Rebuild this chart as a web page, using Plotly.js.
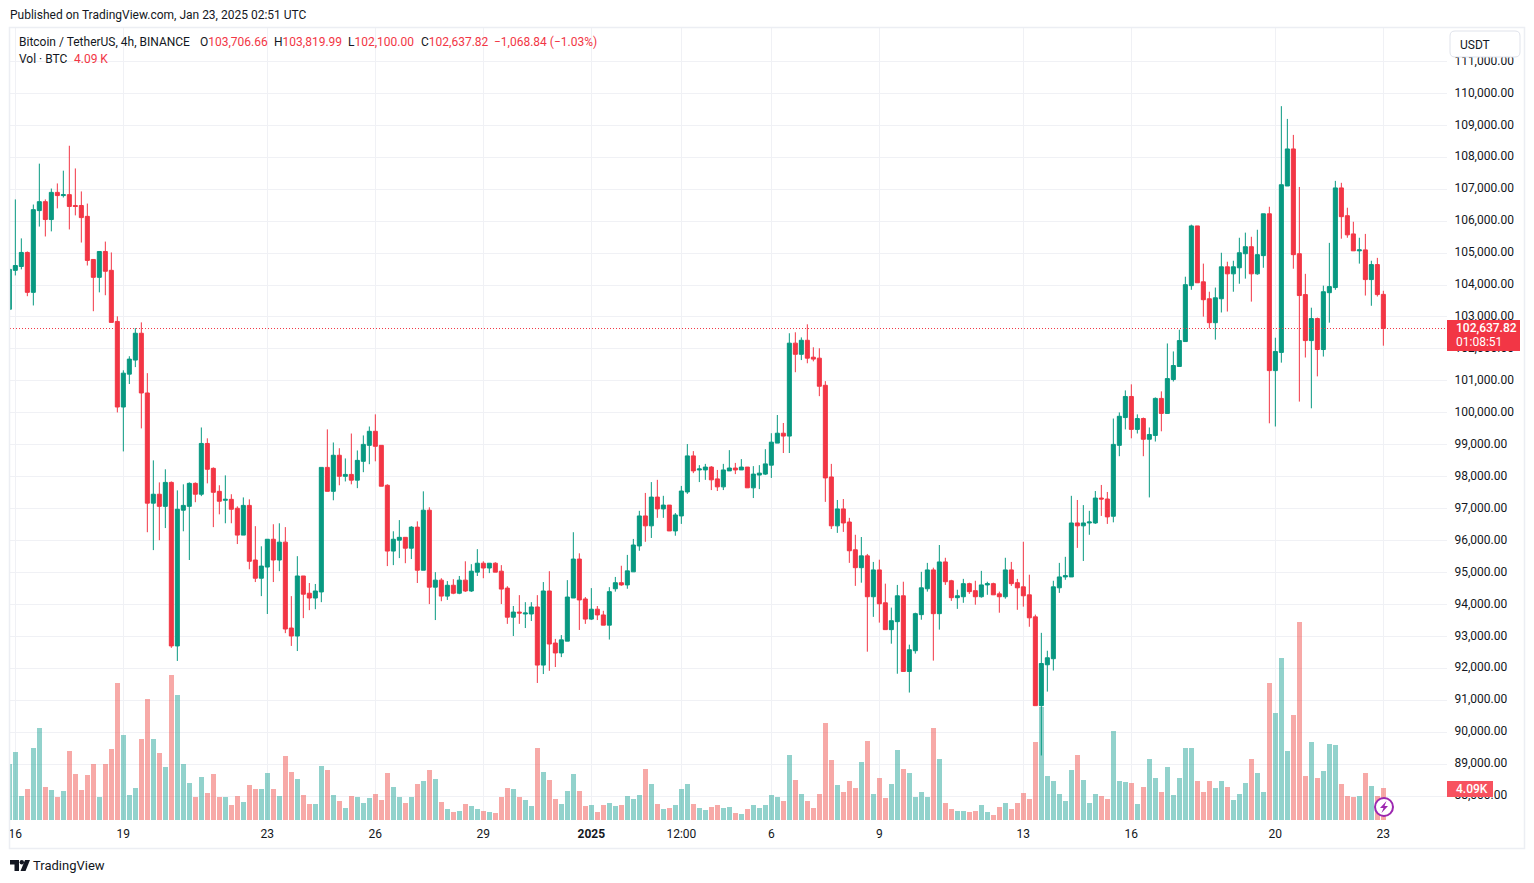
<!DOCTYPE html>
<html>
<head>
<meta charset="utf-8">
<script src="https://cdn.plot.ly/plotly-3.0.1.min.js"></script>
<style>html,body{margin:0;padding:0;background:#fff}#chart{width:1534px;height:883px}</style>
</head>
<body>
<div id="chart"></div>
<script>
// Prices in thousands of USDT, one entry per 4h candle starting 2024-12-15 20:00
const openK = [
103.24,104.46,104.58,105.02,103.77,106.33,106.61,106.05,106.90,106.80,
106.83,106.49,106.49,106.15,104.80,104.24,105.05,104.46,102.86,100.18,
101.21,101.65,102.49,100.62,97.17,97.45,97.07,97.82,92.70,96.95,
97.07,97.79,97.45,99.04,98.26,97.54,97.26,97.29,97.01,96.17,
97.10,95.39,94.82,95.17,96.04,95.39,95.95,93.26,93.01,94.89,
94.35,94.20,94.39,98.29,97.54,98.67,98.01,98.07,97.89,98.48,
98.98,99.42,98.98,97.73,95.67,96.01,96.10,95.76,96.42,95.07,
96.95,94.54,94.76,94.26,94.60,94.35,94.76,94.42,95.01,95.29,
95.14,95.29,95.04,94.51,93.60,93.76,93.70,93.70,93.92,92.10,
94.42,92.79,92.48,92.85,94.20,95.42,94.17,93.54,93.85,93.67,
93.35,94.49,94.68,94.61,95.02,95.83,96.77,96.46,97.36,96.99,
97.11,96.30,96.77,97.52,98.65,98.21,98.21,98.30,97.93,97.68,
98.18,98.27,98.21,98.30,97.65,98.05,98.08,98.36,99.05,99.36,
99.27,102.18,101.83,102.27,101.74,101.71,100.86,97.99,96.46,96.99,
96.58,95.71,95.15,95.52,94.24,95.08,94.05,93.21,93.46,94.27,
91.90,92.55,93.68,94.49,95.08,93.71,95.33,94.74,94.21,94.24,
94.65,94.43,94.24,94.61,94.65,94.33,94.24,95.08,94.68,94.55,
94.30,93.61,90.83,92.11,92.30,94.52,94.86,94.86,96.55,96.46,
96.55,96.55,97.33,97.30,96.76,98.98,99.85,100.51,99.48,99.82,
99.17,99.29,100.45,99.98,101.04,101.45,102.23,103.98,105.85,104.10,
103.57,102.82,103.57,104.57,104.35,104.54,104.98,105.20,104.35,104.92,
106.23,101.32,101.89,107.10,108.26,104.98,103.70,102.26,102.95,101.98,
103.76,103.92,107.04,106.17,105.60,105.07,105.10,104.17,104.64,103.70666
];
const highK = [
104.49,106.68,105.46,105.05,106.52,107.80,106.68,107.02,107.18,107.58,
108.36,107.65,106.93,106.55,104.80,105.05,105.36,105.02,103.02,101.33,
101.77,102.65,102.83,101.24,98.51,97.82,98.23,97.85,97.57,97.76,
97.82,97.82,99.54,99.20,98.29,97.73,98.04,97.45,97.07,97.35,
97.29,96.45,95.82,96.04,96.51,96.54,96.42,94.26,95.51,94.89,
94.67,94.64,98.29,99.48,99.07,98.89,98.57,99.35,98.82,99.29,
99.57,99.95,98.98,97.76,96.29,96.64,96.10,96.45,96.60,97.54,
97.04,95.01,94.82,94.73,94.79,94.89,95.35,95.26,95.73,95.35,
95.29,95.32,95.23,94.57,93.95,94.29,94.07,94.07,94.29,94.70,
95.04,92.92,93.04,94.76,96.26,95.60,94.23,94.51,93.95,93.80,
94.54,94.86,95.21,95.55,96.05,96.93,97.49,97.83,97.90,97.40,
97.11,96.86,97.71,99.02,98.80,98.36,98.40,98.33,98.21,98.40,
98.83,98.43,98.55,98.30,98.33,98.36,98.86,99.36,99.93,99.68,
102.49,102.52,102.36,102.77,102.05,102.02,100.99,98.40,97.27,97.30,
96.71,96.18,96.11,95.58,95.33,95.40,94.65,93.90,94.61,94.71,
92.74,93.74,95.02,95.30,95.15,95.86,95.46,94.77,94.46,94.80,
94.68,94.74,95.05,94.71,94.68,94.40,95.46,95.33,94.80,95.96,
94.93,93.68,93.11,92.55,94.74,95.30,95.49,97.40,97.27,97.11,
96.93,97.55,97.74,97.52,99.82,100.01,100.70,100.89,99.95,99.85,
99.54,100.48,100.67,102.17,101.92,102.60,104.26,105.89,105.85,104.67,
103.79,103.92,105.01,104.73,104.76,105.48,105.64,105.51,105.73,106.23,
106.45,102.35,109.60,109.20,108.70,107.07,104.35,103.29,102.98,103.98,
105.32,107.26,107.20,106.42,105.98,105.48,105.60,104.76,104.85,103.81999
];
const lowK = [
103.24,104.30,104.49,103.65,103.36,105.83,105.52,105.68,106.40,106.74,
105.74,106.18,105.33,104.61,103.18,103.77,103.68,102.83,100.01,98.79,
100.90,101.43,99.51,96.26,95.70,96.01,96.39,92.64,92.23,96.29,
95.39,97.20,97.39,97.79,96.42,96.82,96.54,96.54,95.89,96.17,
95.10,94.70,94.26,93.70,94.70,95.04,93.10,92.70,92.54,93.57,
93.82,93.85,94.07,97.54,97.26,97.73,97.85,97.76,97.64,98.14,
98.39,98.48,97.70,95.20,95.23,95.45,95.29,95.42,94.67,95.07,
94.01,93.51,94.10,94.14,94.32,94.32,94.39,94.39,94.89,94.82,
94.98,95.01,94.01,93.39,93.01,93.39,93.26,93.48,91.54,91.82,
91.92,92.04,92.35,92.85,94.20,93.20,93.39,93.51,93.51,93.35,
92.90,94.40,94.58,94.49,95.02,95.68,95.96,96.08,96.71,96.71,
96.30,96.15,96.52,97.46,98.11,97.83,97.90,97.58,97.55,97.58,
98.18,98.08,98.21,97.65,97.33,97.61,98.05,97.96,99.05,98.74,
98.74,101.27,101.65,101.55,101.61,100.52,97.21,96.36,96.24,96.27,
95.30,94.58,94.68,92.52,93.61,93.43,93.21,92.77,91.83,91.90,
91.24,92.46,93.52,94.40,92.24,93.21,94.61,94.11,93.86,94.05,
94.33,93.99,94.21,94.30,94.30,93.74,94.18,94.58,93.83,93.93,
93.30,90.83,89.27,91.27,91.93,94.36,94.77,94.86,95.77,95.36,
96.18,96.52,96.77,96.52,96.57,98.64,99.48,99.20,99.35,98.64,
97.35,99.10,99.42,99.98,100.98,101.45,102.23,103.85,104.07,103.01,
102.64,102.29,103.14,103.17,103.79,104.04,104.20,103.48,104.32,104.54,
99.67,99.57,101.57,107.10,104.51,100.35,101.73,100.14,101.14,101.76,
102.82,103.85,105.45,105.48,105.07,104.67,103.67,103.35,103.64,102.10
];
const closeK = [
104.49,104.61,105.02,103.77,106.36,106.61,106.05,106.90,106.80,106.83,
106.46,106.46,106.11,104.77,104.24,105.05,104.43,102.83,100.18,101.24,
101.68,102.49,100.62,97.17,97.45,97.07,97.82,92.70,96.98,97.10,
97.79,97.45,99.04,98.23,97.51,97.23,97.29,96.98,96.17,97.10,
95.35,94.82,95.20,96.04,95.39,95.95,93.23,93.01,94.89,94.32,
94.20,94.42,98.29,97.54,98.67,98.01,98.07,97.89,98.51,99.01,
99.42,98.95,97.70,95.67,96.04,96.10,95.76,96.42,95.07,96.95,
94.54,94.76,94.26,94.60,94.35,94.76,94.42,95.04,95.29,95.14,
95.29,95.01,94.48,93.60,93.76,93.73,93.73,93.92,92.10,94.42,
92.76,92.48,92.89,94.23,95.42,94.14,93.54,93.85,93.67,93.35,
94.40,94.68,94.61,95.05,95.86,96.77,96.46,97.36,96.99,97.11,
96.30,96.80,97.55,98.65,98.18,98.24,98.30,97.90,97.68,98.21,
98.27,98.21,98.30,97.65,98.08,98.11,98.40,99.08,99.36,99.27,
102.18,101.83,102.27,101.71,101.68,100.83,97.96,96.46,96.99,96.55,
95.68,95.15,95.52,94.24,95.08,94.02,93.21,93.49,94.27,91.90,
92.58,93.71,94.52,95.08,93.71,95.33,94.71,94.21,94.27,94.65,
94.40,94.24,94.61,94.65,94.30,94.24,95.08,94.65,94.52,94.27,
93.58,90.83,92.15,92.33,94.55,94.86,94.90,96.55,96.46,96.55,
96.58,97.33,97.30,96.74,99.01,99.89,100.51,99.48,99.82,99.17,
99.32,100.45,99.98,101.07,101.48,102.26,104.01,105.85,104.07,103.54,
102.82,103.60,104.57,104.35,104.57,105.01,105.20,104.35,104.95,106.23,
101.32,101.92,107.14,108.26,104.95,103.67,102.26,102.95,101.98,103.79,
103.95,107.04,106.14,105.57,105.07,105.10,104.17,104.64,103.70,102.63782
];
// Volume in thousands of BTC
const volumeK = [
7.16,8.69,3.07,3.96,9.20,11.76,4.22,3.83,2.94,3.71,
8.82,5.88,3.83,5.75,7.16,2.94,7.16,9.07,17.51,10.86,
3.20,4.09,10.35,15.46,10.35,8.56,6.77,18.53,15.98,7.16,
4.73,2.94,5.50,3.45,5.88,2.94,2.94,1.92,3.07,2.30,
4.47,3.96,3.96,6.01,3.96,3.07,8.18,6.13,5.24,3.20,
2.04,2.04,6.90,6.39,3.20,2.43,1.53,3.07,2.94,2.17,
2.81,3.32,2.56,6.01,4.22,2.94,2.17,2.94,4.60,4.98,
6.39,5.24,2.30,1.41,1.02,1.15,2.04,1.79,1.41,1.15,
1.02,0.89,2.94,4.09,3.96,2.94,2.56,1.79,9.20,6.13,
5.11,2.68,2.04,3.71,5.88,3.71,1.79,1.92,1.02,1.92,
2.17,1.79,1.92,3.07,2.68,3.20,6.52,4.60,2.04,1.41,
1.53,1.92,3.96,4.60,2.04,1.53,1.28,1.66,1.92,1.53,
1.66,0.89,0.77,1.41,1.92,1.53,1.92,3.20,2.94,2.43,
8.31,5.11,3.32,2.43,1.53,3.32,12.40,7.67,4.47,3.58,
4.98,4.09,7.41,10.10,3.32,5.37,2.81,4.60,8.95,6.52,
6.01,2.94,3.58,2.94,11.76,7.80,2.17,1.41,1.15,1.15,
1.02,1.15,1.92,1.02,0.64,1.66,2.17,1.41,2.17,3.45,
2.68,9.97,14.48,5.62,4.98,3.32,2.43,6.39,8.31,5.11,
2.17,3.32,3.07,2.68,11.37,4.98,4.86,4.73,2.04,4.22,
7.80,5.37,3.58,6.77,3.20,5.37,9.20,9.20,4.98,3.58,
4.98,4.09,4.98,4.22,2.56,3.32,4.73,7.80,6.01,3.58,
17.51,13.67,20.70,8.82,13.42,25.30,5.62,9.97,5.37,6.26,
9.71,9.59,4.60,3.07,2.94,3.07,6.01,4.35,3.07,4.09
];
const tickDates = ['2024-12-16','2024-12-19','2024-12-23','2024-12-26','2024-12-29','2025-01-01','2025-01-03 12:00','2025-01-06','2025-01-09','2025-01-13','2025-01-16','2025-01-20','2025-01-23'];
const tickLabels = ['16','19','23','26','29','<b>2025</b>','12:00','6','9','13','16','20','23'];
const priceTicks = [88,89,90,91,92,93,94,95,96,97,98,99,100,101,102,103,104,105,106,107,108,109,110,111];
const lastPrice = 102637.82;

const T = v => v * 1000;
const times = openK.map((_, i) => new Date(Date.UTC(2024, 11, 15, 20) + i * 4 * 3600e3).toISOString().slice(0, 19).replace('T', ' '));
const UP = '#089981', DOWN = '#f23645', INK = '#131722';
const FONT = 'Roboto, sans-serif';

const volumeTrace = {
  type: 'bar', x: times, y: volumeK, yaxis: 'y', xaxis: 'x', width: 4 * 3600e3 * 0.83,
  marker: { color: openK.map((o, i) => closeK[i] >= o ? 'rgba(38,166,154,0.5)' : 'rgba(239,83,80,0.5)'), line: { width: 0 } },
  hoverinfo: 'skip', showlegend: false
};
const candleTrace = {
  type: 'candlestick', x: times, open: openK.map(T), high: highK.map(T), low: lowK.map(T), close: closeK.map(T),
  xaxis: 'x', yaxis: 'y2', whiskerwidth: 0, hoverinfo: 'skip', showlegend: false,
  increasing: { line: { color: UP, width: 1 }, fillcolor: UP },
  decreasing: { line: { color: DOWN, width: 1 }, fillcolor: DOWN }
};

// page-pixel helpers for the decoration around the plot
const L = 10, R = 1447, TOP = 28, BOT = 820;
const X = p => (p - L) / (R - L), Y = p => (BOT - p) / (BOT - TOP);
const paper = { xref: 'paper', yref: 'paper' };
const box = (x0, y0, x1, y1, fill, line, w) => Object.assign({ type: 'rect', x0: X(x0), x1: X(x1), y0: Y(y0), y1: Y(y1), fillcolor: fill, line: { color: line || fill, width: w === undefined ? 0 : w }, layer: 'above' }, paper);
const poly = (pts, fill) => Object.assign({ type: 'path', path: 'M' + pts.map(p => X(p[0]) + ',' + Y(p[1])).join(' L') + ' Z', fillcolor: fill, line: { width: 0 }, layer: 'above' }, paper);
const circle = (cx, cy, r, fill, line, w) => Object.assign({ type: 'circle', x0: X(cx - r), x1: X(cx + r), y0: Y(cy - r), y1: Y(cy + r), fillcolor: fill, line: { color: line || fill, width: w || 0 }, layer: 'above' }, paper);
const note = (px, py, text, color, size, weight) => Object.assign({ x: X(px), y: Y(py), text: text, showarrow: false, xanchor: 'left', yanchor: 'middle', align: 'left', borderpad: 0, font: { family: FONT, size: size || 12, color: color || INK, weight: weight || 400 } }, paper);

function roundRect(x0, y0, x1, y1, r) {
  const p = (x, y) => X(x) + ',' + Y(y);
  return 'M' + p(x0 + r, y0) + ' L' + p(x1 - r, y0) + ' Q' + p(x1, y0) + ' ' + p(x1, y0 + r) + ' L' + p(x1, y1 - r) + ' Q' + p(x1, y1) + ' ' + p(x1 - r, y1) +
    ' L' + p(x0 + r, y1) + ' Q' + p(x0, y1) + ' ' + p(x0, y1 - r) + ' L' + p(x0, y0 + r) + ' Q' + p(x0, y0) + ' ' + p(x0 + r, y0) + ' Z';
}

const shapes = [
  { type: 'line', xref: 'paper', yref: 'y2', x0: 0, x1: 1, y0: lastPrice, y1: lastPrice, line: { color: DOWN, width: 1, dash: '1px,2px' }, layer: 'above' },
  box(9.5, 27.5, 1524.5, 848.5, 'rgba(0,0,0,0)', '#eceef3', 1.5),
  box(1447, 320, 1520, 351, DOWN),
  box(1447, 781, 1493, 797, '#f7525f'),
  Object.assign({ type: 'path', path: roundRect(1450, 31, 1520, 57, 5), fillcolor: '#ffffff', line: { color: '#e0e3eb', width: 1 }, layer: 'above' }, paper),
  circle(1384, 807, 9, '#ffffff', '#9c27b0', 2),
  poly([[1386.5, 801], [1380, 808], [1383.5, 808], [1381.5, 813], [1388, 806], [1384.5, 806]], '#9c27b0'),
  poly([[10, 860], [19, 860], [19, 871], [14.5, 871], [14.5, 864.5], [10, 864.5]], INK),
  circle(21.8, 862.2, 2.2, INK),
  poly([[20.5, 871], [25, 860], [30, 860], [25.5, 871]], INK)
];

const red = '#f23645';
const annotations = [
  note(9, 15, 'Published on TradingView.com, Jan 23, 2025 02:51 UTC'),
  note(17.5, 42, 'Bitcoin / TetherUS, 4h, BINANCE'),
  note(198.5, 42, `O<span style="color:${red}">103,706.66</span>`),
  note(273, 42, `H<span style="color:${red}">103,819.99</span>`),
  note(347, 42, `L<span style="color:${red}">102,100.00</span>`),
  note(419.5, 42, `C<span style="color:${red}">102,637.82</span>`),
  note(492.5, 42, '−1,068.84 (−1.03%)', red),
  note(17.5, 59, 'Vol · BTC'),
  note(73, 59, '4.09 K', red),
  note(1458.5, 44.5, 'USDT'),
  note(1454.5, 328, '102,637.82', '#ffffff', 12, 500),
  note(1454.5, 342, '01:08:51', '#ffffff'),
  note(1454.5, 789, '4.09K', '#ffffff', 12, 500),
  note(32, 865, 'TradingView', INK, 13)
];

const GRID = '#f0f1f5';
const layout = {
  width: 1534, height: 883, paper_bgcolor: '#ffffff', plot_bgcolor: '#ffffff', showlegend: false, dragmode: false,
  margin: { l: L, r: 1534 - R, t: TOP, b: 883 - BOT, pad: 0 },
  font: { family: FONT, size: 12, color: INK },
  bargap: 0, boxgap: 0.33, boxgroupgap: 0,
  xaxis: {
    type: 'date', range: ['2024-12-15 20:27', '2025-01-24 18:26'], rangeslider: { visible: false },
    tickmode: 'array', tickvals: tickDates, ticktext: tickLabels, ticks: 'outside', ticklen: 3, tickcolor: 'rgba(0,0,0,0)',
    showgrid: true, gridcolor: GRID, gridwidth: 1, zeroline: false, showline: false, tickfont: { family: FONT, size: 12, color: INK }, fixedrange: true
  },
  yaxis: { range: [0, 101.2], visible: false, showgrid: false, zeroline: false, fixedrange: true },
  yaxis2: {
    overlaying: 'y', side: 'right', anchor: 'x', range: [87250, 112047],
    tickmode: 'array', tickvals: priceTicks.map(T), ticktext: priceTicks.map(v => T(v).toLocaleString('en-US', { minimumFractionDigits: 2, maximumFractionDigits: 2 })),
    ticks: 'outside', ticklen: 4, tickcolor: 'rgba(0,0,0,0)', showgrid: true, gridcolor: GRID, gridwidth: 1, zeroline: false, showline: false,
    ticklabelshift: -1, tickfont: { family: FONT, size: 12, color: INK }, fixedrange: true
  },
  shapes, annotations
};
Plotly.newPlot('chart', [volumeTrace, candleTrace], layout, { displayModeBar: false, staticPlot: true });
</script>
</body>
</html>
